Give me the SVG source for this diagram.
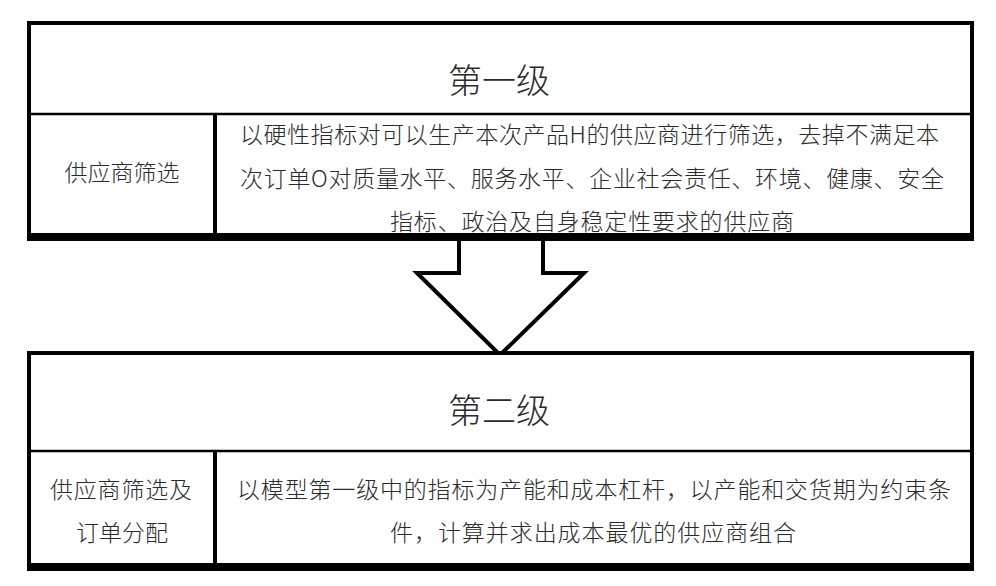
<svg xmlns="http://www.w3.org/2000/svg" width="996" height="586" viewBox="0 0 996 586">
<style>
.frame{fill:#fff;stroke:#000;stroke-width:4}
.div{stroke:#000;stroke-width:2.5;fill:none}
.vdiv{stroke:#000;stroke-width:4;fill:none}
.base{stroke:#000;stroke-width:8;fill:none}
text{font-family:"Noto Sans CJK SC","Noto Sans",sans-serif;fill:#2b2b2b;font-weight:300}
.title{font-size:34px;text-anchor:middle}
.lab{font-size:23px;text-anchor:middle}
.body{font-size:23px}
.ctr{text-anchor:middle}
.arrow{fill:#fff;stroke:#000;stroke-width:4;stroke-linejoin:miter}
</style>
<g id="connectors">
<polygon class="arrow" points="459,237 459,273 417,273 500,355 584,273 543,273 543,237"/>
</g>
<g id="level1">
<rect class="frame" x="29" y="23" width="943" height="214"/>
<line class="div" x1="29" y1="114" x2="972" y2="114"/>
<line class="vdiv" x1="215" y1="114" x2="215" y2="237"/>
<text class="title" x="499" y="93">第一级</text>
<text class="lab" x="122" y="181">供应商筛选</text>
<text class="body" x="240" y="143" textLength="699" lengthAdjust="spacing">以硬性指标对可以生产本次产品H的供应商进行筛选，去掉不满足本</text>
<text class="body" x="240" y="187" textLength="704" lengthAdjust="spacing">次订单O对质量水平、服务水平、企业社会责任、环境、健康、安全</text>
<text class="body ctr" x="592" y="230" textLength="404" lengthAdjust="spacing">指标、政治及自身稳定性要求的供应商</text>
<line class="base" x1="27" y1="237" x2="974" y2="237"/>
</g>
<g id="level2">
<rect class="frame" x="29" y="353" width="943" height="214"/>
<line class="div" x1="29" y1="451" x2="972" y2="451"/>
<line class="vdiv" x1="215" y1="451" x2="215" y2="567"/>
<text class="title" x="499" y="423">第二级</text>
<text class="lab" x="121" y="498" textLength="142" lengthAdjust="spacing">供应商筛选及</text>
<text class="lab" x="122" y="541">订单分配</text>
<text class="body" x="237" y="498" textLength="714" lengthAdjust="spacing">以模型第一级中的指标为产能和成本杠杆，以产能和交货期为约束条</text>
<text class="body ctr" x="593" y="541" textLength="406" lengthAdjust="spacing">件，计算并求出成本最优的供应商组合</text>
<line class="base" x1="27" y1="567" x2="974" y2="567"/>
</g>
</svg>
